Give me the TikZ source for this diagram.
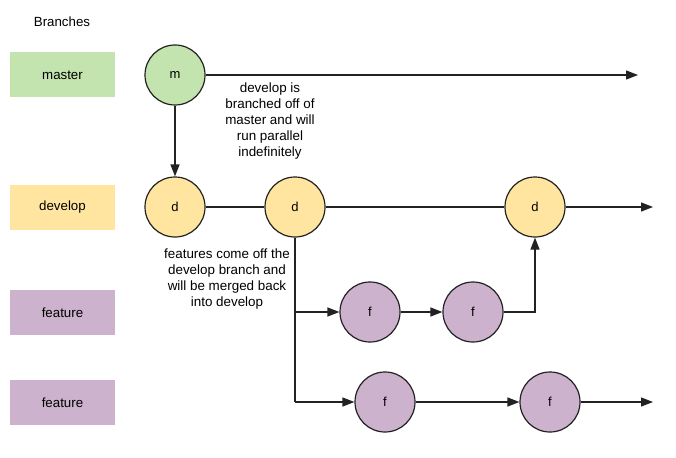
\documentclass[tikz,border=0pt]{standalone}
\usepackage{fontspec}
\setmainfont{Liberation Sans}
\usetikzlibrary{arrows.meta}
\definecolor{mgreen}{RGB}{195,228,174}
\definecolor{myellow}{RGB}{255,229,160}
\definecolor{mpurple}{RGB}{204,178,204}
\definecolor{mline}{RGB}{34,34,34}
\tikzset{
  lane/.style={minimum width=105pt,minimum height=45pt,inner sep=0pt,font=\fontsize{13.3}{15}\selectfont},
  commit/.style={circle,draw=mline,line width=1.2pt,minimum size=60pt,inner sep=0pt,font=\fontsize{13}{15}\selectfont},
  conn/.style={draw=mline,line width=1.3pt},
  arr/.style={conn,-{Triangle[length=12pt,width=9pt]}},
  note/.style={align=center,font=\fontsize{13.4}{16}\selectfont,inner sep=0pt}
}
\begin{document}
\begin{tikzpicture}[x=1pt,y=-1pt]
\useasboundingbox (0,0) rectangle (676,457);
\node[font=\fontsize{13.3}{15}\selectfont] (title) at (62,22) {Branches};
\node[lane,fill=mgreen] (lm) at (62.5,75) {master};
\node[lane,fill=myellow] (ld) at (62.5,207.5) {develop};
\node[lane,fill=mpurple] (lf1) at (62.5,312.5) {feature};
\node[lane,fill=mpurple] (lf2) at (62.5,402.5) {feature};

\node[commit,fill=mgreen] (m) at (175,75) {m};
\node[commit,fill=myellow] (d1) at (175,207) {d};
\node[commit,fill=myellow] (d2) at (295,207) {d};
\node[commit,fill=myellow] (d3) at (535,207) {d};
\node[commit,fill=mpurple] (f1) at (370,312) {f};
\node[commit,fill=mpurple] (f2) at (473,312) {f};
\node[commit,fill=mpurple] (f3) at (385,402) {f};
\node[commit,fill=mpurple] (f4) at (550,402) {f};

\coordinate (mend) at (638,75);
\coordinate (dend) at (653,207);
\coordinate (fend) at (653,402);
\coordinate (b1) at (295,312);
\coordinate (b2) at (295,402);
\coordinate (j) at (535,312);

\draw[arr] (m) -- (mend);
\draw[arr] (m) -- (d1);
\draw[conn] (d1) -- (d2);
\draw[conn] (d2) -- (d3);
\draw[arr] (d3) -- (dend);
\draw[conn] (d2.south) -- (b2);
\draw[arr] (b1) -- (f1);
\draw[arr] (b2) -- (f3);
\draw[arr] (f1) -- (f2);
\draw[arr] (f2.east) -- (j) -- (d3.south);
\draw[arr] (f3) -- (f4);
\draw[arr] (f4) -- (fend);

\node[note] (n1) at (270,121) {develop is\\branched off of\\master and will\\run parallel\\indefinitely};
\node[note] (n2) at (227,279) {features come off the\\develop branch and\\will be merged back\\into develop};
\end{tikzpicture}
\end{document}
